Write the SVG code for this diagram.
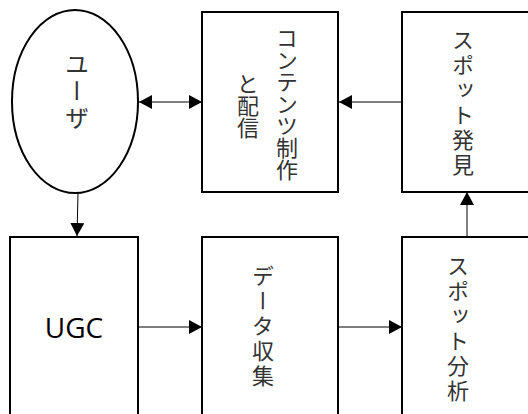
<svg xmlns="http://www.w3.org/2000/svg" width="528" height="414" viewBox="0 0 528 414">
<defs>
<style>
.box{fill:#fff;stroke:#000;stroke-width:2}
.conn{stroke:#000;stroke-width:1;fill:none}
.vt{font-family:"Noto Sans CJK JP","Noto Sans",sans-serif;font-size:22px;fill:#333;writing-mode:vertical-rl;text-anchor:middle}
.wide{letter-spacing:3px}
.big{font-size:24px}
.hz{font-family:"Open Sans","Liberation Sans",sans-serif;font-size:28px;fill:#000;text-anchor:middle}
</style>
<marker id="ah" markerUnits="userSpaceOnUse" markerWidth="13" markerHeight="14" refX="13" refY="7" orient="auto-start-reverse" viewBox="0 0 13 14">
<path d="M0,0 L13,7 L0,14 z" fill="#000"/>
</marker>
</defs>
<g id="connectors">
<line class="conn" x1="139" y1="102" x2="202" y2="102" marker-start="url(#ah)" marker-end="url(#ah)"/>
<line class="conn" x1="402" y1="102" x2="339" y2="102" marker-end="url(#ah)"/>
<line class="conn" x1="78" y1="193" x2="77" y2="236" marker-end="url(#ah)"/>
<line class="conn" x1="138" y1="327" x2="202" y2="327" marker-end="url(#ah)"/>
<line class="conn" x1="338" y1="327" x2="402" y2="327" marker-end="url(#ah)"/>
<line class="conn" x1="467" y1="237" x2="467" y2="192" marker-end="url(#ah)"/>
</g>
<g id="user">
<ellipse class="box" cx="75" cy="101.5" rx="63" ry="91.5"/>
<text class="vt wide big" x="77" y="92">ユーザ</text>
</g>
<g id="content">
<rect class="box" x="202" y="12" width="136" height="180"/>
<text class="vt" x="287" y="104">コンテンツ制作</text>
<text class="vt" x="248" y="106">と配信</text>
</g>
<g id="discovery">
<rect class="box" x="402" y="12" width="140" height="180"/>
<text class="vt wide" x="463" y="104">スポット発見</text>
</g>
<g id="ugc">
<rect class="box" x="10" y="237" width="128" height="190"/>
<text class="hz" x="74" y="338">UGC</text>
</g>
<g id="collect">
<rect class="box" x="202" y="237" width="136" height="190"/>
<text class="vt wide" x="263" y="327">データ収集</text>
</g>
<g id="analysis">
<rect class="box" x="402" y="237" width="140" height="190"/>
<text class="vt wide" x="458" y="330">スポット分析</text>
</g>
</svg>
